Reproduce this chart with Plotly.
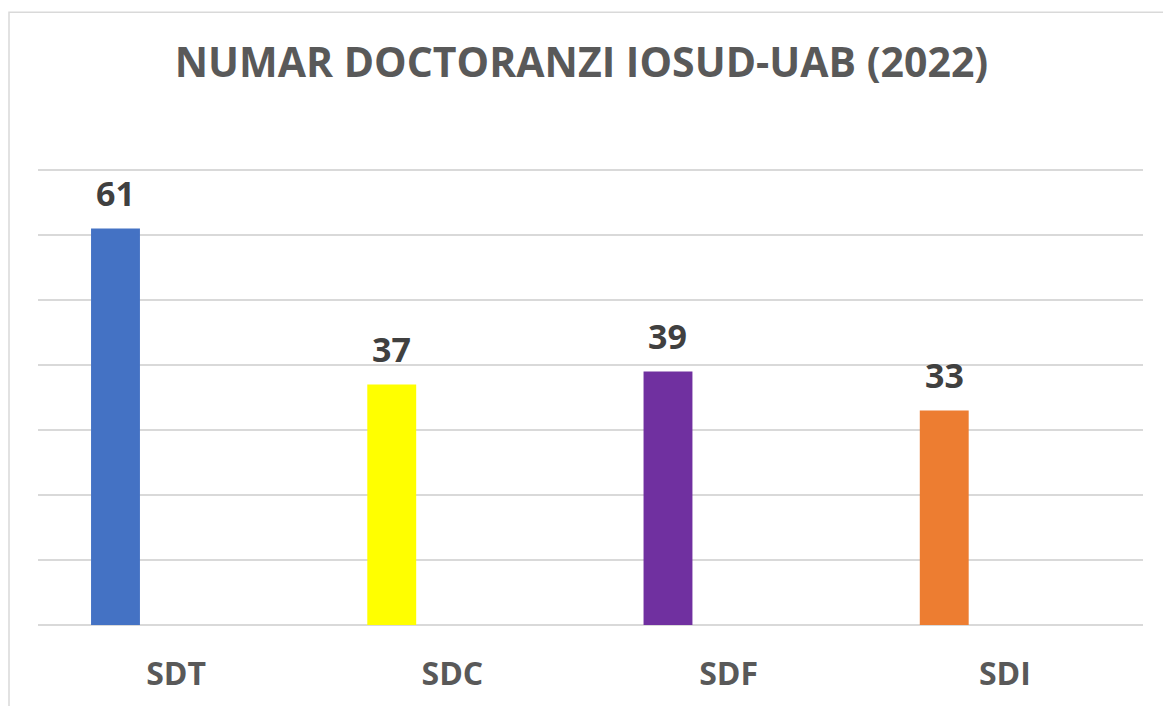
import plotly.graph_objects as go

categories = ["SDT", "SDC", "SDF", "SDI"]
values = [61, 37, 39, 33]
colors = ["#4472C4", "#FFFF00", "#7030A0", "#ED7D31"]
title_text = "NUMAR DOCTORANZI IOSUD-UAB (2022)"

W, H = 1163, 706
L, R, B = 38, 20, 79
y_top = 70.3
px_per_unit = (H - B - 170) / 70.0
ph = y_top * px_per_unit
T = H - B - ph
pw = W - L - R

bar_w = 0.177
bar_off = -0.308

fig = go.Figure()
fig.add_trace(go.Bar(
    x=categories, y=values,
    marker=dict(color=colors, line=dict(width=0)),
    width=[bar_w] * len(categories),
    offset=[bar_off] * len(categories),
    hoverinfo="x+y",
))

for c, v in zip(categories, values):
    fig.add_annotation(
        x=c, y=v, xref="x", yref="y",
        text=str(v), showarrow=False,
        xshift=(bar_off + bar_w / 2) * pw / len(categories),
        yanchor="bottom", yshift=10,
        font=dict(family="Open Sans", size=34, color="#404040", weight="bold"),
    )

# chart border (Excel chart area frame)
fig.add_shape(
    type="rect", xref="paper", yref="paper",
    x0=(9 - L) / pw, x1=(W + 10 - L) / pw,
    y0=-(B + 10) / ph, y1=(H - B - 11.5) / ph,
    line=dict(color="#D9D9D9", width=1.5), fillcolor="rgba(0,0,0,0)",
    layer="below",
)

fig.update_layout(
    width=W, height=H,
    margin=dict(l=L, r=R, t=T, b=B, pad=0),
    paper_bgcolor="white", plot_bgcolor="white",
    showlegend=False,
    title=dict(
        text=title_text, x=0.5, xanchor="center",
        y=1 - 63 / H, yanchor="middle", yref="container",
        font=dict(family="Open Sans", size=41, color="#595959", weight="bold"),
    ),
    xaxis=dict(
        type="category", showgrid=False, zeroline=False,
        showline=False, ticks="", ticklabelstandoff=27,
        tickfont=dict(family="Open Sans", size=32, color="#595959", weight="bold"),
        range=[-0.5, 3.5],
    ),
    yaxis=dict(
        range=[0, y_top], dtick=10, showticklabels=False,
        showgrid=True, gridcolor="#D9D9D9", gridwidth=1.5,
        zeroline=True, zerolinecolor="#D9D9D9", zerolinewidth=1.5,
        showline=False,
    ),
)

fig.write_html(
    "out.html",
    config={"displayModeBar": False},
    post_script="document.body.style.margin='0';",
)
